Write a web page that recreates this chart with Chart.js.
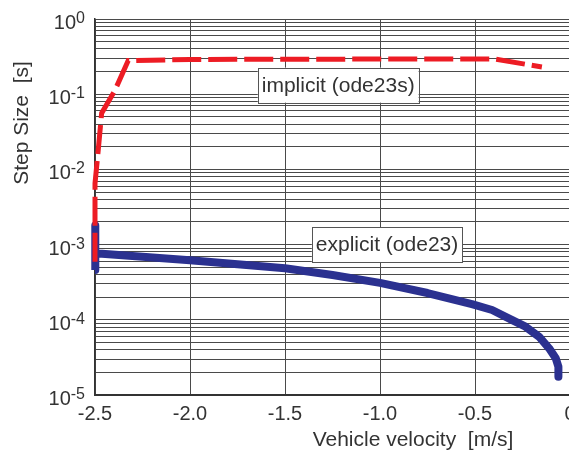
<!DOCTYPE html>
<html>
<head>
<meta charset="utf-8">
<script src="https://cdn.jsdelivr.net/npm/chart.js@4.4.1/dist/chart.umd.min.js"></script>
<style>
  html, body { margin: 0; padding: 0; background: #fff; overflow: hidden; }
</style>
</head>
<body>
<canvas id="stepChart" width="600" height="455"></canvas>
<script>
// values
var x_ticks = [-2.5, -2.0, -1.5, -1.0, -0.5, 0];
var y_decades = [0, -1, -2, -3, -4, -5];

var implicit_x = [-2.5, -2.5, -2.483, -2.465, -2.394, -2.325, -2.0, -1.5, -1.0, -0.394, -0.148];
var implicit_y = [5.9e-4, 6.5e-3, 0.018, 0.056, 0.114, 0.28, 0.29, 0.292, 0.293, 0.293, 0.23];

var explicit_x = [-2.5, -2.5, -2.497, -2.25, -2.0, -1.5, -1.25, -1.0, -0.75, -0.516, -0.41, -0.304, -0.234, -0.163, -0.11, -0.075, -0.061, -0.061];
var explicit_y = [4.6e-4, 1.8e-3, 7.65e-4, 6.9e-4, 6.2e-4, 4.85e-4, 3.94e-4, 3.1e-4, 2.27e-4, 1.62e-4, 1.35e-4, 9.9e-5, 8.1e-5, 5.96e-5, 4.18e-5, 3.08e-5, 2.38e-5, 1.75e-5];

var note_text = ['implicit (ode23s)', 'explicit (ode23)'];
var note_x = [-1.22, -0.963];
var note_y = [0.132, 1.0e-3];

function toPoints(xs, ys) {
  var pts = [];
  for (let i = 0; i < xs.length; i++) pts.push({x: xs[i], y: ys[i]});
  return pts;
}

var textColor = '#333333';
var gridColor = '#4a4a4a';

// y tick labels with superscripts, axis titles, text boxes
const extras = {
  id: 'extras',
  afterDraw(chart) {
    const ctx = chart.ctx;
    const xs = chart.scales.x, ys = chart.scales.y;
    ctx.save();
    ctx.fillStyle = textColor;

    // y tick labels 10^n
    for (let i = 0; i < y_decades.length; i++) {
      let py = ys.getPixelForValue(Math.pow(10, y_decades[i]));
      let ex = String(y_decades[i]);
      ctx.font = '16px "Liberation Sans", Arial, sans-serif';
      ctx.textAlign = 'right';
      ctx.textBaseline = 'alphabetic';
      let ew = ctx.measureText(ex).width;
      ctx.fillText(ex, 85, py + 4);
      ctx.font = '20px "Liberation Sans", Arial, sans-serif';
      ctx.fillText('10', 85 - ew, py + 10);
    }

    // axis titles
    ctx.font = '21px "Liberation Sans", Arial, sans-serif';
    ctx.textAlign = 'center';
    ctx.textBaseline = 'alphabetic';
    ctx.fillText('Vehicle velocity  [m/s]', 413, 446);
    ctx.save();
    ctx.translate(28, 123);
    ctx.rotate(-Math.PI / 2);
    ctx.fillText('Step Size  [s]', 0, 0);
    ctx.restore();

    // text boxes
    for (let i = 0; i < note_text.length; i++) {
      let cx = xs.getPixelForValue(note_x[i]);
      let cy = ys.getPixelForValue(note_y[i]);
      ctx.font = '21px "Liberation Sans", Arial, sans-serif';
      let w = ctx.measureText(note_text[i]).width + 8;
      let h = 35;
      ctx.fillStyle = '#ffffff';
      ctx.fillRect(cx - w / 2, cy - h / 2, w, h);
      ctx.strokeStyle = '#555555';
      ctx.lineWidth = 1;
      ctx.strokeRect(Math.round(cx - w / 2) + 0.5, Math.round(cy - h / 2) + 0.5, Math.round(w), h);
      ctx.fillStyle = textColor;
      ctx.textAlign = 'center';
      ctx.textBaseline = 'middle';
      ctx.fillText(note_text[i], cx, cy + 1);
    }
    ctx.restore();
  }
};

const data = {
  datasets: [
    {
      label: 'implicit (ode23s)',
      data: toPoints(implicit_x, implicit_y),
      borderColor: '#ed1c24',
      backgroundColor: '#ed1c24',
      borderWidth: 5,
      borderDash: [29, 7],
      pointRadius: 0,
      tension: 0,
      fill: false,
      clip: 8,
      borderCapStyle: 'butt'
    },
    {
      label: 'explicit (ode23)',
      data: toPoints(explicit_x, explicit_y),
      borderColor: '#2b3190',
      backgroundColor: '#2b3190',
      borderWidth: 8,
      pointRadius: 0,
      tension: 0,
      fill: false,
      clip: 8,
      borderCapStyle: 'butt',
      borderJoinStyle: 'round'
    }
  ]
};

const config = {
  type: 'line',
  data: data,
  options: {
    responsive: false,
    animation: false,
    events: [],
    layout: { padding: { top: 19, right: 30, left: 0, bottom: 0 } },
    scales: {
      x: {
        type: 'linear',
        min: -2.5,
        max: 0,
        afterBuildTicks: function (scale) {
          scale.ticks = x_ticks.map(v => ({value: v}));
        },
        afterFit: function (scale) { scale.height = 60; },
        ticks: {
          color: textColor,
          font: { family: '"Liberation Sans", Arial, sans-serif', size: 20 },
          padding: 7,
          maxRotation: 0,
          autoSkip: false,
          callback: function (v) { return v === 0 ? '0' : v.toFixed(1); }
        },
        grid: { color: gridColor, lineWidth: 1, drawTicks: false },
        border: { color: '#333333', width: 2 }
      },
      y: {
        type: 'logarithmic',
        min: 1e-5,
        max: 1,
        afterBuildTicks: function (scale) {
          var t = [];
          for (let d = -5; d <= 0; d++) {
            for (let m = 1; m <= 9; m++) {
              let v = m * Math.pow(10, d);
              if (v <= 1) t.push({value: v});
            }
          }
          scale.ticks = t;
        },
        afterFit: function (scale) { scale.width = 95; },
        ticks: { display: false },
        grid: { color: gridColor, lineWidth: 1, drawTicks: false },
        border: { color: '#333333', width: 1.5 }
      }
    },
    plugins: {
      legend: { display: false },
      tooltip: { enabled: false }
    }
  },
  plugins: [extras]
};

const myChart = new Chart(document.getElementById('stepChart'), config);
</script>
</body>
</html>
